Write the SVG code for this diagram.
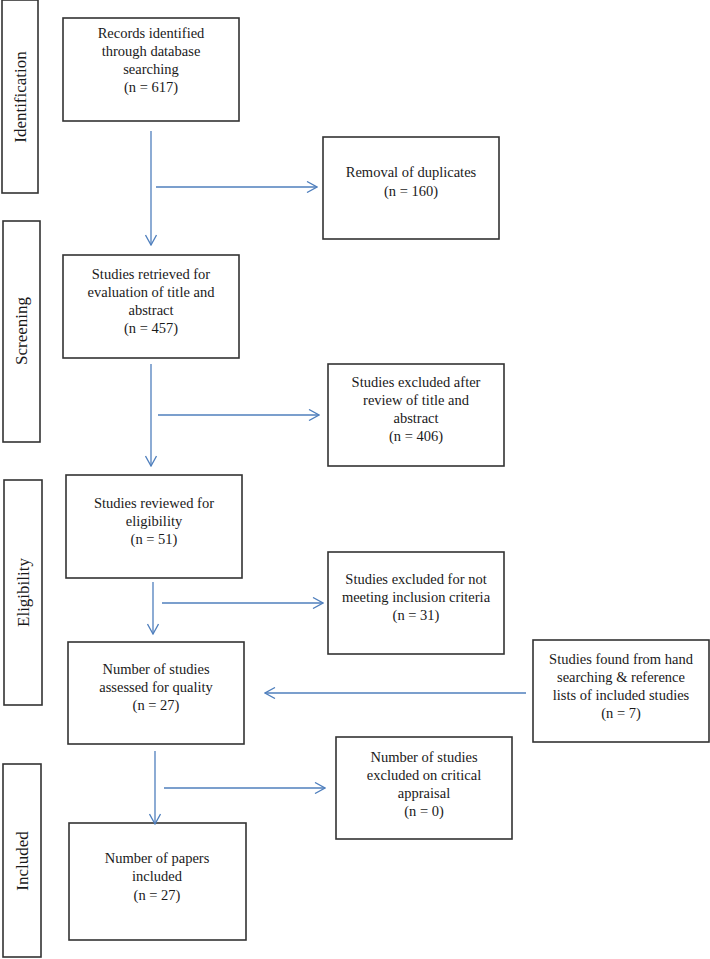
<svg xmlns="http://www.w3.org/2000/svg" width="710" height="959" viewBox="0 0 710 959">
<defs>
<style>
.box{fill:#fff;stroke:#333;stroke-width:1.6}
.t{font-family:"Liberation Serif","Times New Roman",serif;font-size:14.5px;fill:#1a1a1a;text-anchor:middle}
.lab{font-family:"Liberation Serif","Times New Roman",serif;font-size:17px;fill:#1a1a1a;text-anchor:middle;dominant-baseline:central}
.c{stroke:#4f7fbd;stroke-width:1.3;fill:none}
</style>
<marker id="ah" markerUnits="userSpaceOnUse" markerWidth="12" markerHeight="12" viewBox="0 0 12 12" refX="11" refY="6" orient="auto">
<path d="M1,0.5 L11,6 L1,11.5" fill="none" stroke="#4f7fbd" stroke-width="1.3"/>
</marker>
</defs>
<rect width="710" height="959" fill="#fff"/>

<g id="stage-identification">
<rect class="box" x="2" y="0" width="36" height="193"/>
<text class="lab" transform="translate(20,97) rotate(-90)">Identification</text>
</g>
<g id="stage-screening">
<rect class="box" x="3" y="221" width="37" height="221"/>
<text class="lab" transform="translate(21.5,331) rotate(-90)">Screening</text>
</g>
<g id="stage-eligibility">
<rect class="box" x="4" y="480" width="38" height="225"/>
<text class="lab" transform="translate(23,592.5) rotate(-90)">Eligibility</text>
</g>
<g id="stage-included">
<rect class="box" x="3" y="764" width="38" height="193"/>
<text class="lab" transform="translate(22,861) rotate(-90)">Included</text>
</g>

<g id="n-records">
<rect class="box" x="63" y="18" width="176" height="103"/>
<text class="t" x="151" y="38">Records identified</text>
<text class="t" x="151" y="56">through database</text>
<text class="t" x="151" y="74">searching</text>
<text class="t" x="151" y="92">(n = 617)</text>
</g>
<g id="n-duplicates">
<rect class="box" x="323" y="137" width="176" height="102"/>
<text class="t" x="411" y="177">Removal of duplicates</text>
<text class="t" x="411" y="196">(n = 160)</text>
</g>
<g id="n-retrieved">
<rect class="box" x="63" y="255" width="176" height="103"/>
<text class="t" x="151" y="279">Studies retrieved for</text>
<text class="t" x="151" y="297">evaluation of title and</text>
<text class="t" x="151" y="315">abstract</text>
<text class="t" x="151" y="333">(n = 457)</text>
</g>
<g id="n-excluded-title">
<rect class="box" x="328" y="364" width="176" height="102"/>
<text class="t" x="416" y="387">Studies excluded after</text>
<text class="t" x="416" y="405">review of title and</text>
<text class="t" x="416" y="423">abstract</text>
<text class="t" x="416" y="441">(n = 406)</text>
</g>
<g id="n-reviewed">
<rect class="box" x="66" y="475" width="176" height="103"/>
<text class="t" x="154" y="508">Studies reviewed for</text>
<text class="t" x="154" y="526">eligibility</text>
<text class="t" x="154" y="544">(n = 51)</text>
</g>
<g id="n-excluded-criteria">
<rect class="box" x="328" y="552" width="176" height="102"/>
<text class="t" x="416" y="584">Studies excluded for not</text>
<text class="t" x="416" y="602">meeting inclusion criteria</text>
<text class="t" x="416" y="620">(n = 31)</text>
</g>
<g id="n-quality">
<rect class="box" x="68" y="642" width="176" height="102"/>
<text class="t" x="156" y="674">Number of studies</text>
<text class="t" x="156" y="692">assessed for quality</text>
<text class="t" x="156" y="710">(n = 27)</text>
</g>
<g id="n-hand">
<rect class="box" x="533" y="640" width="176" height="102"/>
<text class="t" x="621" y="664">Studies found from hand</text>
<text class="t" x="621" y="682">searching &amp; reference</text>
<text class="t" x="621" y="700">lists of included studies</text>
<text class="t" x="621" y="718">(n = 7)</text>
</g>
<g id="n-appraisal">
<rect class="box" x="336" y="737" width="176" height="102"/>
<text class="t" x="424" y="762">Number of studies</text>
<text class="t" x="424" y="780">excluded on critical</text>
<text class="t" x="424" y="798">appraisal</text>
<text class="t" x="424" y="816">(n = 0)</text>
</g>
<g id="n-included">
<rect class="box" x="69" y="823" width="177" height="117"/>
<text class="t" x="157" y="863">Number of papers</text>
<text class="t" x="157" y="881">included</text>
<text class="t" x="157" y="900">(n = 27)</text>
</g>

<g id="connectors">
<line class="c" x1="151" y1="131" x2="151" y2="245" marker-end="url(#ah)"/>
<line class="c" x1="156" y1="187" x2="317" y2="187" marker-end="url(#ah)"/>
<line class="c" x1="151" y1="364" x2="151" y2="466" marker-end="url(#ah)"/>
<line class="c" x1="158" y1="415" x2="319" y2="415" marker-end="url(#ah)"/>
<line class="c" x1="153" y1="582" x2="153" y2="634" marker-end="url(#ah)"/>
<line class="c" x1="162" y1="603" x2="323" y2="603" marker-end="url(#ah)"/>
<line class="c" x1="526" y1="693" x2="265" y2="693" marker-end="url(#ah)"/>
<line class="c" x1="155" y1="751" x2="155" y2="824" marker-end="url(#ah)"/>
<line class="c" x1="164" y1="788" x2="325" y2="788" marker-end="url(#ah)"/>
</g>
</svg>
